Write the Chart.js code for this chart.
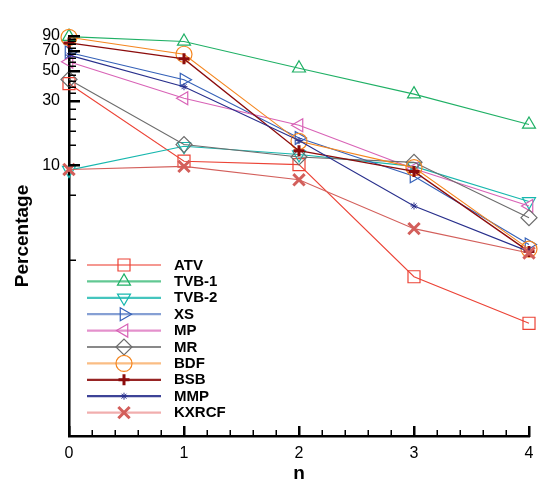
<!DOCTYPE html>
<html>
<head>
<meta charset="utf-8">
<script src="https://cdn.jsdelivr.net/npm/chart.js@4/dist/chart.umd.min.js"></script>
<style>
  html, body { margin: 0; padding: 0; background: #fff; }
  #c { display: block; }
</style>
</head>
<body>
<canvas id="c" width="545" height="488"></canvas>
<script>
// Iteration index n and the percentage reached by each method
const nValues = [0, 1, 2, 3, 4];
const atv   = [40, 10.7, 10.1, 1.5, 0.68];
const tvb1  = [89, 82, 52, 33.5, 20];
const tvb2  = [9.2, 13.8, 12, 9.8, 5.4];
const xs    = [68, 42.8, 15.9, 8.3, 2.6];
const mp    = [58, 31.2, 19.7, 9.4, 5.0];
const mr    = [43, 14.2, 11.5, 10.5, 4.1];
const bdf   = [88, 66, 15, 9.6, 2.4];
const bsb   = [80, 61, 12.8, 9.0, 2.3];
const mmp   = [65, 38, 15.2, 5.0, 2.3];
const kxrcf = [9.3, 9.8, 7.8, 3.4, 2.25];

const seriesNames = ['ATV', 'TVB-1', 'TVB-2', 'XS', 'MP', 'MR', 'BDF', 'BSB', 'MMP', 'KXRCF'];

// Axis ticks
const yMajorTicks = [10, 30, 50, 70, 90];
const yMinorTicks = [2, 6, 14, 18, 22, 26, 34, 38, 42, 46, 54, 58, 62, 66, 74, 78, 82, 86];
const xMajorTicks = [0, 1, 2, 3, 4];
const xMinorTicks = [0.2, 0.4, 0.6, 0.8, 1.2, 1.4, 1.6, 1.8, 2.2, 2.4, 2.6, 2.8, 3.2, 3.4, 3.6, 3.8];

const FONT = "'Liberation Sans', Arial, Helvetica, sans-serif";

// Line and marker styling per method
const styles = [
  { color: '#ec4336', legend: 'rgba(236,67,54,0.55)',  pointStyle: 'rect',     rotation: 0,   radius: 8.5, bw: 1.2 },
  { color: '#1fb065', legend: 'rgba(31,176,101,0.7)',  pointStyle: 'triangle', rotation: 0,   radius: 7.5, bw: 1.2 },
  { color: '#17b7ae', legend: 'rgba(23,183,174,0.8)',  pointStyle: 'triangle', rotation: 180, radius: 7.5, bw: 1.2 },
  { color: '#3561b8', legend: 'rgba(53,97,184,0.6)',   pointStyle: 'triangle', rotation: 90,  radius: 7.5, bw: 1.2 },
  { color: '#d862b6', legend: 'rgba(216,98,182,0.7)',  pointStyle: 'triangle', rotation: 270, radius: 7.5, bw: 1.2 },
  { color: '#6c6c6c', legend: 'rgba(108,108,108,0.8)', pointStyle: 'rectRot',  rotation: 0,   radius: 8,   bw: 1.2 },
  { color: '#f5861f', legend: 'rgba(245,134,31,0.55)', pointStyle: 'circle',   rotation: 0,   radius: 8,   bw: 1.2 },
  { color: '#8c0c0c', legend: 'rgba(140,12,12,0.9)',   pointStyle: 'cross',    rotation: 0,   radius: 5.5, bw: 3 },
  { color: '#282f8c', legend: 'rgba(40,47,140,0.9)',   pointStyle: 'star',     rotation: 0,   radius: 3.5, bw: 1 },
  { color: '#d35f5b', legend: 'rgba(232,120,120,0.6)', pointStyle: 'crossRot', rotation: 0,   radius: 8,   bw: 3 }
];

const seriesValues = [atv, tvb1, tvb2, xs, mp, mr, bdf, bsb, mmp, kxrcf];

const datasets = seriesValues.map((vals, i) => ({
  label: seriesNames[i],
  data: vals.map((v, k) => ({ x: nValues[k], y: v })),
  borderColor: styles[i].color,
  backgroundColor: 'rgba(0,0,0,0)',
  borderWidth: i === 7 ? 1.4 : 1.1,
  pointStyle: styles[i].pointStyle,
  pointRotation: styles[i].rotation,
  pointRadius: styles[i].radius,
  pointHoverRadius: styles[i].radius,
  pointBorderWidth: styles[i].bw,
  pointBorderColor: styles[i].color,
  pointBackgroundColor: 'rgba(0,0,0,0)',
  tension: 0,
  clip: false,
  order: seriesNames.length - i
}));

// Inward tick marks on the left and bottom axes, then the legend
const overlay = {
  id: 'overlay',
  afterDraw(chart) {
    const ctx = chart.ctx;
    const area = chart.chartArea;
    const xScale = chart.scales.x, yScale = chart.scales.y;
    ctx.save();
    ctx.fillStyle = '#000000';
    const left = Math.round(area.left), bottom = Math.round(area.bottom);
    for (const v of yMajorTicks) {
      const y = Math.round(yScale.getPixelForValue(v));
      ctx.fillRect(left - 1, y - 1, 12, 2.5);
    }
    for (const v of yMinorTicks) {
      const y = Math.round(yScale.getPixelForValue(v));
      ctx.fillRect(left - 1, y - 0.5, 8, 1.5);
    }
    for (const v of xMajorTicks) {
      const x = Math.round(xScale.getPixelForValue(v));
      ctx.fillRect(x - 1, bottom - 10, 2.5, 11);
    }
    for (const v of xMinorTicks) {
      const x = Math.round(xScale.getPixelForValue(v));
      ctx.fillRect(x - 0.5, bottom - 6, 1.5, 7);
    }

    // Legend: short line with the marker centred on it, then the bold name
    const x0 = area.left + 18, x1 = area.left + 92, xm = (x0 + x1) / 2;
    const top = area.top + 229, step = 16.4;
    seriesNames.forEach((name, i) => {
      const s = styles[i];
      const y = top + i * step;
      ctx.strokeStyle = s.legend;
      ctx.lineWidth = 2.2;
      ctx.beginPath(); ctx.moveTo(x0, y); ctx.lineTo(x1, y); ctx.stroke();
      ctx.strokeStyle = s.color;
      ctx.fillStyle = 'rgba(0,0,0,0)';
      ctx.lineWidth = s.bw;
      Chart.helpers.drawPoint(ctx, {
        pointStyle: s.pointStyle, rotation: s.rotation, radius: s.radius, borderWidth: s.bw
      }, xm, y);
      ctx.fillStyle = '#000';
      ctx.font = 'bold 15px ' + FONT;
      ctx.textBaseline = 'middle';
      ctx.textAlign = 'left';
      ctx.fillText(name, area.left + 105, y + 0.5);
    });
    ctx.restore();
  }
};

new Chart(document.getElementById('c'), {
  type: 'line',
  data: { datasets },
  options: {
    responsive: false,
    animation: false,
    devicePixelRatio: 1,
    layout: { padding: { left: 0, right: 16, top: 36, bottom: 0 } },
    plugins: { legend: { display: false }, tooltip: { enabled: false } },
    scales: {
      x: {
        type: 'linear',
        min: 0, max: 4,
        afterBuildTicks: s => { s.ticks = xMajorTicks.map(v => ({ value: v })); },
        afterFit: s => { s.height = 52; },
        grid: { display: false, drawTicks: false },
        border: { display: true, color: '#000', width: 2.5 },
        ticks: { color: '#000', font: { family: FONT, size: 16 }, padding: 8, maxRotation: 0,
                 callback: v => String(v) },
        title: { display: true, text: 'n', color: '#000', font: { family: FONT, size: 19, weight: 'bold' },
                 padding: { top: 0, bottom: 3 } }
      },
      y: {
        type: 'logarithmic',
        min: 0.1, max: 90,
        afterBuildTicks: s => { s.ticks = yMajorTicks.map(v => ({ value: v })); },
        afterFit: s => { s.width = 69; },
        grid: { display: false, drawTicks: false },
        border: { display: true, color: '#000', width: 2.5 },
        ticks: { color: '#000', font: { family: FONT, size: 16 }, padding: 9,
                 callback: v => String(v) },
        title: { display: true, text: 'Percentage', color: '#000', font: { family: FONT, size: 19, weight: 'bold' },
                 padding: { top: 11, bottom: 0 } }
      }
    }
  },
  plugins: [overlay]
});
</script>
</body>
</html>
